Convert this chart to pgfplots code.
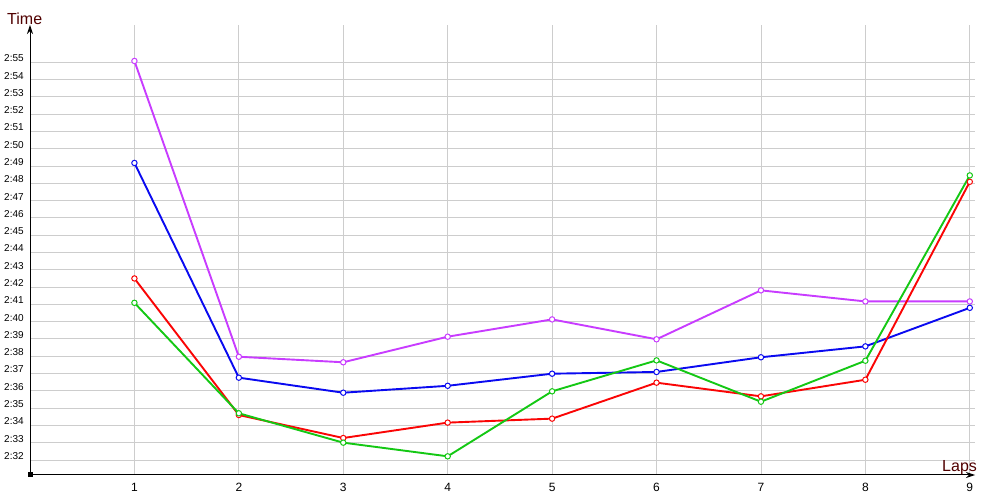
\documentclass[border=0pt]{standalone}
\usepackage{pgfplots}
\pgfplotsset{compat=1.18}
\usepackage{fontspec}
\setmainfont{Liberation Sans}
\usetikzlibrary{arrows.meta}

\definecolor{lapPurple}{RGB}{200,60,255}
\definecolor{lapBlue}{RGB}{10,10,240}
\definecolor{lapRed}{RGB}{250,5,5}
\definecolor{lapGreen}{RGB}{20,200,20}
\definecolor{titleRed}{RGB}{80,0,0}

\begin{document}
\begin{tikzpicture}
\useasboundingbox (0,0) rectangle (1000pt,500pt);
\begin{axis}[
    at={(30pt,25pt)}, anchor=south west,
    scale only axis,
    width=945pt, height=450pt,
    xmin=0, xmax=9.05,
    ymin=151.13, ymax=177.16,
    axis x line=bottom, axis y line=left,
    axis line style={black, line width=1pt, -{Stealth[length=9pt,width=6pt]}},
    xtick={1,...,9},
    ytick={152,...,175},
    yticklabels={2:32,2:33,2:34,2:35,2:36,2:37,2:38,2:39,2:40,2:41,2:42,2:43,
                 2:44,2:45,2:46,2:47,2:48,2:49,2:50,2:51,2:52,2:53,2:54,2:55},
    major tick length=0pt,
    grid=major,
    grid style={draw={rgb,255:red,205;green,205;blue,205}, line width=0.9pt},
    /pgf/number format/assume math mode=true,
    xticklabel style={font=\fontsize{12}{14}\selectfont, yshift=-5pt},
    yticklabel style={font=\fontsize{10}{12}\selectfont, anchor=west, inner sep=0pt, xshift=-26pt, yshift=4pt},
    clip=false,
    every axis plot/.append style={line width=1.9pt, mark=o, mark size=2.7pt,
        mark options={fill=white, line width=1pt, solid}},
]
% purple
\addplot[lapPurple, mark=*] coordinates {(1,175.08) (2,157.97) (3,157.65) (4,159.13) (5,160.13) (6,158.98) (7,161.81) (8,161.17) (9,161.17)};
% blue
\addplot[lapBlue, mark=*] coordinates {(1,169.18) (2,156.76) (3,155.89) (4,156.29) (5,156.99) (6,157.09) (7,157.94) (8,158.57) (9,160.80)};
% red
\addplot[lapRed, mark=*] coordinates {(1,162.50) (2,154.60) (3,153.27) (4,154.16) (5,154.39) (6,156.47) (7,155.68) (8,156.64) (9,168.09)};
% green
\addplot[lapGreen, mark=*] coordinates {(1,161.09) (2,154.70) (3,153.00) (4,152.21) (5,155.97) (6,157.76) (7,155.37) (8,157.74) (9,168.46)};
\fill[black] (rel axis cs:0,0) ++(-2.5pt,-2.5pt) rectangle ++(5pt,5pt);
\end{axis}
\node[anchor=base west, inner sep=0pt, text=titleRed, font=\fontsize{16}{18}\selectfont] at (7pt,475pt) {Time};
\node[anchor=base west, inner sep=0pt, text=titleRed, font=\fontsize{16}{18}\selectfont] at (942pt,28pt) {Laps};
\end{tikzpicture}
\end{document}
